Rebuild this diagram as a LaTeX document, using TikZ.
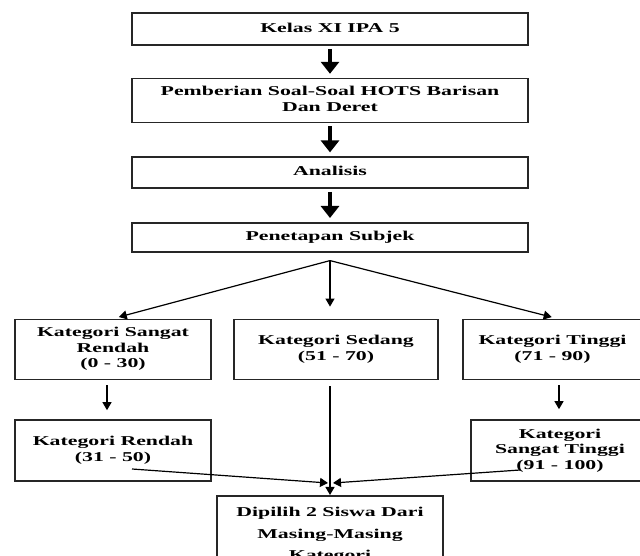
\documentclass[tikz,border=0pt]{standalone}
\usepackage{fontspec}
\setmainfont{Liberation Serif}
\usepackage{graphicx}
\usetikzlibrary{arrows.meta}
\usetikzlibrary{positioning}
\newcommand{\stagetext}[2][25pt]{\scalebox{1}[0.62]{\fontsize{21.8pt}{#1}\selectfont\bfseries\begin{tabular}{@{}c@{}}#2\end{tabular}}}
\tikzset{
    stage/.style={
           rectangle,
           draw=black!85, line width=1.6pt,
           inner sep=0pt,
           text centered,
           },
}
\tikzset{
    flow/.style={
           -{Triangle[width=18pt,length=12pt]},
           line width=4pt,
           shorten <=3pt, shorten >=4pt,
           },
}
\tikzset{
    branch/.style={
           -{Triangle[width=9pt,length=8pt]},
           line width=1.2pt,
           },
}

\begin{document}
\begin{tikzpicture}
\useasboundingbox (0pt,0pt) rectangle (640pt,556pt);
\node[stage,minimum width=396pt,minimum height=32pt] (kelas) at (330pt,527pt) {\stagetext{Kelas XI IPA 5}};
\node[stage,minimum width=396pt,minimum height=44pt,below = 32pt of kelas] (soal) {\stagetext{Pemberian Soal-Soal HOTS Barisan\\Dan Deret}};
\node[stage,minimum width=396pt,minimum height=31pt,below = 33pt of soal] (analisis) {\stagetext{Analisis}};
\node[stage,minimum width=396pt,minimum height=29pt,below = 33pt of analisis] (penetapan) {\stagetext{Penetapan Subjek}};
\coordinate[below = 8pt of penetapan] (fan);
\node[stage,minimum width=196pt,minimum height=60pt,below = 66pt of penetapan,xshift=-217pt] (sRendah) {\stagetext{Kategori Sangat\\Rendah\\(0 - 30)}};
\node[stage,minimum width=204pt,minimum height=60pt,below = 66pt of penetapan,xshift=6pt] (sedang) {\stagetext{Kategori Sedang\\(51 - 70)}};
\node[stage,minimum width=179pt,minimum height=60pt,below = 66pt of penetapan,xshift=222.5pt] (tinggi) {\stagetext{Kategori Tinggi\\(71 - 90)}};
\node[stage,minimum width=196pt,minimum height=61pt,below = 39pt of sRendah] (rendah) {\stagetext{Kategori Rendah\\(31 - 50)}};
\node[stage,minimum width=178pt,minimum height=61pt,below = 39pt of tinggi,xshift=7.5pt] (sTinggi) {\stagetext{Kategori\\Sangat Tinggi\\(91 - 100)}};
\node[stage,minimum width=226pt,minimum height=76pt,anchor=north] (dipilih) at (330pt,61pt) {\stagetext[34.7pt]{Dipilih 2 Siswa Dari\\Masing-Masing\\Kategori}};
\path (kelas) edge[flow] (soal);
\path (soal) edge[flow] (analisis);
\path (analisis) edge[flow] (penetapan);
\path (fan) edge[branch,shorten >=6pt] (sRendah.north);
\path (fan) edge[branch,shorten >=12pt] (fan |- sedang.north);
\path (fan) edge[branch,shorten >=6pt] ([xshift=5pt]tinggi.north);
\path ([xshift=-6pt]sRendah.south) edge[branch,shorten <=5pt,shorten >=9pt] ([xshift=-6pt]sRendah.south |- rendah.north);
\path ([xshift=6.5pt]tinggi.south) edge[branch,shorten <=5pt,shorten >=10pt] ([xshift=6.5pt]tinggi.south |- sTinggi.north);
\path (dipilih.north |- sedang.south) edge[branch,shorten <=6pt] (dipilih.north);
\path ([xshift=19pt,yshift=-18.5pt]rendah.center) edge[branch] ([xshift=-2pt,yshift=12pt]dipilih.north);
\path ([xshift=-40pt,yshift=-19.5pt]sTinggi.center) edge[branch] ([xshift=3pt,yshift=12pt]dipilih.north);
\end{tikzpicture}
\end{document}
